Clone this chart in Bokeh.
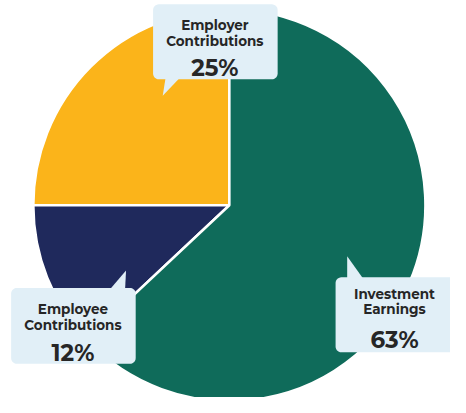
import numpy as np
from bokeh.plotting import figure
from bokeh.models import Range1d
from bokeh.core.properties import value
from bokeh.embed import file_html
from bokeh.resources import INLINE

# ---- data ----
categories = ["Employer Contributions", "Employee Contributions", "Investment Earnings"]
label_line1 = ["Employer", "Employee", "Investment"]
label_line2 = ["Contributions", "Contributions", "Earnings"]
shares = [25, 12, 63]
colors = ["#FBB41A", "#1F295C", "#0F6B5A"]

W, H = 466, 413
def sy(y):
    return H - y

p = figure(width=450, height=397, output_backend="svg", toolbar_location=None,
           x_range=Range1d(0, W), y_range=Range1d(0, H),
           min_border=0, outline_line_color=None, background_fill_color="white")
p.axis.visible = False
p.grid.visible = False

# pie (counter-clockwise starting at 12 o'clock)
vals = np.array(shares, dtype=float)
ends = np.cumsum(vals) / vals.sum() * 2 * np.pi
starts = np.concatenate([[0], ends[:-1]])
offset = np.pi / 2
p.wedge(x=237, y=sy(213), radius=203, start_angle=starts + offset, end_angle=ends + offset,
        fill_color=colors, line_color="white", line_width=2.5)

BOX = "#E1EFF7"

def rounded_rect(x0, y0, x1, y1, r=6, n=8):
    xs, ys = [], []
    corners = [(x1 - r, y0 + r, -90, 0), (x1 - r, y1 - r, 0, 90),
               (x0 + r, y1 - r, 90, 180), (x0 + r, y0 + r, 180, 270)]
    for cx, cy, a0, a1 in corners:
        a = np.radians(np.linspace(a0, a1, n))
        xs += list(cx + r * np.cos(a))
        ys += list(cy + r * np.sin(a))
    return xs, [sy(v) for v in ys]

boxes = [(158, 4, 287, 82), (11, 299, 140, 378), (347, 288, 472, 366)]
tails = [[(171, 80), (186, 80), (168, 99)],
         [(113, 301), (129, 301), (130, 281)],
         [(359, 290), (376, 290), (359, 266)]]

bx, by = [], []
for b in boxes:
    xs, ys = rounded_rect(*b)
    bx.append(xs); by.append(ys)
p.patches(bx, by, fill_color=BOX, line_color=None)
p.patches([[pt[0] for pt in t] for t in tails], [[sy(pt[1]) for pt in t] for t in tails],
          fill_color=BOX, line_color=None)

# labels
cx = [222, 75, 408]
base1 = [25, 321, 305]
base2 = [42, 338, 321]
base3 = [70, 367, 353]
font = value("Montserrat, Open Sans")
TXT = "#262626"
p.text(x=cx, y=[sy(v) for v in base1], text=label_line1, text_font=font, text_font_style="bold",
       text_font_size="13.5px", text_align="center", text_baseline="alphabetic", text_color=TXT)
p.text(x=cx, y=[sy(v) for v in base2], text=label_line2, text_font=font, text_font_style="bold",
       text_font_size="13.5px", text_align="center", text_baseline="alphabetic", text_color=TXT)
p.text(x=cx, y=[sy(v) for v in base3], text=[f"{s}%" for s in shares], text_font=font,
       text_font_style="bold", text_font_size="23px", text_align="center",
       text_baseline="alphabetic", text_color=TXT)

open("out.html", "w").write(file_html(p, INLINE))
